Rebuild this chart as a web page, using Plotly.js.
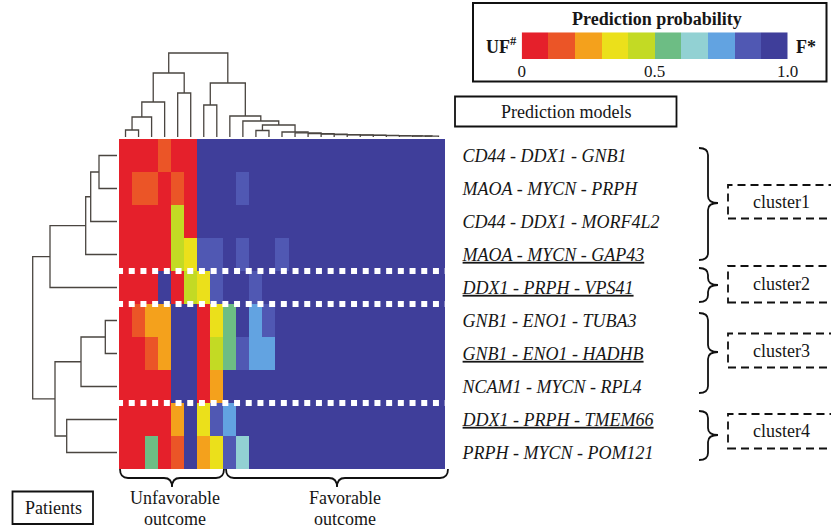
<!DOCTYPE html>
<html><head><meta charset="utf-8">
<script src="https://cdn.plot.ly/plotly-3.0.1.min.js"></script>
<style>html,body{margin:0;padding:0;background:#fff;}#chart{width:831px;height:530px;}</style>
</head><body><div id="chart"></div>
<script>
// ---------- data ----------
const models = ['CD44 - DDX1 - GNB1','MAOA - MYCN - PRPH','CD44 - DDX1 - MORF4L2','MAOA - MYCN - GAP43',
  'DDX1 - PRPH - VPS41','GNB1 - ENO1 - TUBA3','GNB1 - ENO1 - HADHB','NCAM1 - MYCN - RPL4',
  'DDX1 - PRPH - TMEM66','PRPH - MYCN - POM121'];
const underlined = [false,false,false,true,true,false,true,false,true,false];
const clusters = ['cluster1','cluster2','cluster3','cluster4'];
const patients = [1,2,3,4,5,6,7,8,9,10,11,12,13,14,15,16,17,18,19,20,21,22,23,24,25];

const probCD44_DDX1_GNB1   = [0.05,0.05,0.05,0.15,0.05,0.05,0.95,0.95,0.95,0.95,0.95,0.95,0.95,0.95,0.95,0.95,0.95,0.95,0.95,0.95,0.95,0.95,0.95,0.95,0.95];
const probMAOA_MYCN_PRPH   = [0.05,0.15,0.15,0.05,0.15,0.05,0.95,0.95,0.95,0.85,0.95,0.95,0.95,0.95,0.95,0.95,0.95,0.95,0.95,0.95,0.95,0.95,0.95,0.95,0.95];
const probCD44_DDX1_MORF4L2= [0.05,0.05,0.05,0.05,0.45,0.05,0.95,0.95,0.95,0.95,0.95,0.95,0.95,0.95,0.95,0.95,0.95,0.95,0.95,0.95,0.95,0.95,0.95,0.95,0.95];
const probMAOA_MYCN_GAP43  = [0.05,0.05,0.05,0.05,0.45,0.35,0.85,0.85,0.95,0.85,0.95,0.95,0.85,0.95,0.95,0.95,0.95,0.95,0.95,0.95,0.95,0.95,0.95,0.95,0.95];
const probDDX1_PRPH_VPS41  = [0.05,0.05,0.05,0.95,0.05,0.45,0.35,0.85,0.95,0.95,0.85,0.95,0.95,0.95,0.95,0.95,0.95,0.95,0.95,0.95,0.95,0.95,0.95,0.95,0.95];
const probGNB1_ENO1_TUBA3  = [0.05,0.15,0.25,0.25,0.95,0.95,0.05,0.35,0.55,0.95,0.75,0.85,0.95,0.95,0.95,0.95,0.95,0.95,0.95,0.95,0.95,0.95,0.95,0.95,0.95];
const probGNB1_ENO1_HADHB  = [0.05,0.05,0.15,0.25,0.95,0.95,0.05,0.45,0.55,0.85,0.75,0.75,0.95,0.95,0.95,0.95,0.95,0.95,0.95,0.95,0.95,0.95,0.95,0.95,0.95];
const probNCAM1_MYCN_RPL4  = [0.05,0.05,0.05,0.05,0.95,0.95,0.05,0.25,0.95,0.95,0.95,0.95,0.95,0.95,0.95,0.95,0.95,0.95,0.95,0.95,0.95,0.95,0.95,0.95,0.95];
const probDDX1_PRPH_TMEM66 = [0.05,0.05,0.05,0.05,0.25,0.95,0.35,0.85,0.75,0.95,0.95,0.95,0.95,0.95,0.95,0.95,0.95,0.95,0.95,0.95,0.95,0.95,0.95,0.95,0.95];
const probPRPH_MYCN_POM121 = [0.05,0.05,0.55,0.05,0.15,0.95,0.25,0.35,0.85,0.65,0.95,0.95,0.95,0.95,0.95,0.95,0.95,0.95,0.95,0.95,0.95,0.95,0.95,0.95,0.95];

// patient dendrogram: [left node, right node, height]
const patientLinkage = [[0,1,7],[25,2,20],[26,3,35],[4,5,44],[27,28,64],[6,7,32],
  [23,24,0.8],[22,31,1.0],[21,32,1.2],[20,33,1.4],[19,34,1.6],[18,35,1.8],[17,36,2.1],[16,37,2.4],
  [15,38,2.8],[14,39,3.4],[13,40,4.2],[12,41,5.0],[10,11,6.5],[43,42,12],[9,44,16],[8,45,21],
  [30,46,54],[29,47,84]];
// model dendrogram
const modelLinkage = [[0,1,18],[10,2,26.3],[11,3,31.3],[12,4,67],[5,6,11.7],[14,7,36],[8,9,50.3],[15,16,62],[13,17,84.3]];

const binColors = ['#e5202b','#eb5527','#f4a11c','#ebe01b','#c3da24','#6dbd84','#92d1d3','#62a3e1','#5058b3','#3f3e9a'];
const legendValues = [0.05,0.15,0.25,0.35,0.45,0.55,0.65,0.75,0.85,0.95];
const legendTickVals = [0,0.5,1];
const legendTickText = ['0','0.5','1.0'];

// ---------- build ----------
const W=831,H=530;
const px=x=>x/W, py=y=>1-y/H;
const FONT='Liberation Serif', TXT='#161616';

const z=[probCD44_DDX1_GNB1,probMAOA_MYCN_PRPH,probCD44_DDX1_MORF4L2,probMAOA_MYCN_GAP43,probDDX1_PRPH_VPS41,
  probGNB1_ENO1_TUBA3,probGNB1_ENO1_HADHB,probNCAM1_MYCN_RPL4,probDDX1_PRPH_TMEM66,probPRPH_MYCN_POM121];
const colorscale=[];
binColors.forEach((c,i)=>{colorscale.push([i/10,c]);colorscale.push([(i+1)/10,c]);});

function dendro(link,n){
  const pos=[],hgt=[];for(let i=0;i<n;i++){pos.push(i);hgt.push(0);}
  const p=[],h=[];
  link.forEach(([a,b,ht])=>{p.push(pos[a],pos[a],pos[b],pos[b],null);h.push(hgt[a],ht,ht,hgt[b],null);
    pos.push((pos[a]+pos[b])/2);hgt.push(ht);});
  return {p,h};
}
const dTop=dendro(patientLinkage,patients.length);
const dLeft=dendro(modelLinkage,models.length);
const rowIdx=models.map((m,i)=>i), colIdx=patients.map((p,i)=>i);
const lineCol='#4a4540';

const traces=[
  {type:'heatmap',z:z,x:colIdx,y:rowIdx,colorscale:colorscale,zmin:0,zmax:1,showscale:false,xaxis:'x',yaxis:'y',hoverinfo:'z'},
  {type:'scatter',mode:'lines',x:dTop.p,y:dTop.h,xaxis:'x',yaxis:'y3',line:{color:lineCol,width:1.3},hoverinfo:'skip'},
  {type:'scatter',mode:'lines',x:dLeft.h,y:dLeft.p,xaxis:'x3',yaxis:'y',line:{color:lineCol,width:1.3},hoverinfo:'skip'},
  {type:'heatmap',z:[legendValues],x:legendValues,y:[0],colorscale:colorscale,zmin:0,zmax:1,showscale:false,xaxis:'x4',yaxis:'y4',hoverinfo:'skip'}
];

function P(cmds){return cmds.map(c=>{const pts=[];for(let i=1;i<c.length;i+=2)pts.push(px(c[i]).toFixed(5)+','+py(c[i+1]).toFixed(5));return c[0]+pts.join(' ');}).join(' ');}
function braceV(yT,yB,yM){const x0=699,xm=708,xt=718,r=7;
  return P([['M',x0,yT],['Q',xm,yT,xm,yT+r],['L',xm,yM-r],['Q',xm,yM,xt,yM],['Q',xm,yM,xm,yM+r],['L',xm,yB-r],['Q',xm,yB,x0,yB]]);}
function braceH(xL,xR,xM){const yT=469,ym=478,yt=487,r=8;
  return P([['M',xL,yT],['Q',xL,ym,xL+r,ym],['L',xM-r,ym],['Q',xM,ym,xM,yt],['Q',xM,ym,xM+r,ym],['L',xR-r,ym],['Q',xR,ym,xR,yT]]);}

const shapes=[];
[3.5,4.5,7.5].forEach(b=>shapes.push({type:'line',xref:'x',yref:'y',x0:-0.65,x1:24.5,y0:b,y1:b,line:{color:'white',width:6,dash:'6px,5.7px'}}));
function rect(x0,y0,x1,y1,w,dash){shapes.push({type:'rect',xref:'paper',yref:'paper',x0:px(x0),x1:px(x1),y0:py(y1),y1:py(y0),line:{color:'#111',width:w,dash:dash||'solid'}});}
rect(473,3,826.5,81.5,2);
rect(455,96.5,676.5,126.5,1.8);
rect(12.5,491.5,93,524,1.8);
const clusterBoxes=[[185,218.5],[266,302.5],[333.5,367.5],[414,448.5]];
clusterBoxes.forEach(b=>rect(728,b[0],850,b[1],1.8,'8px,5px'));
[[148,260,203],[268,302,285],[313,393,352],[411,460,435]].forEach(b=>shapes.push({type:'path',xref:'paper',yref:'paper',path:braceV(b[0],b[1],b[2]),line:{color:'#111',width:1.8}}));
shapes.push({type:'path',xref:'paper',yref:'paper',path:braceH(120,224,172),line:{color:'#111',width:1.8}});
shapes.push({type:'path',xref:'paper',yref:'paper',path:braceH(226,448,337),line:{color:'#111',width:1.8}});

function ann(text,x,y,size){return {text:text,xref:'paper',yref:'paper',x:px(x),y:py(y),xanchor:'center',yanchor:'middle',showarrow:false,font:{family:FONT,size:size,color:TXT}};}
const annotations=[
  ann('<b>Prediction probability</b>',657,19,18),
  ann('<b>UF<sup>#</sup></b>',501,46,18),
  ann('<b>F*</b>',806,47,18),
  ann('Prediction models',566,112,18),
  ann('Unfavorable',175,498,18),ann('outcome',175,519,18),
  ann('Favorable',345,498,18),ann('outcome',345,519,18),
  ann('Patients',53,508,18)
];
const clusterY=[202,284,350.5,431];
clusters.forEach((c,i)=>annotations.push(ann(c,781,clusterY[i],18)));

const layout={
  width:W,height:H,margin:{l:0,r:0,t:0,b:0},paper_bgcolor:'white',plot_bgcolor:'rgba(0,0,0,0)',showlegend:false,
  font:{family:FONT,color:TXT},
  xaxis:{domain:[px(119),px(445)],range:[-0.5,24.5],anchor:'y',visible:false,fixedrange:true},
  yaxis:{domain:[py(469),py(139)],range:[9.5,-0.5],anchor:'x',side:'right',tickvals:rowIdx,
    ticktext:models.map((m,i)=>underlined[i]?'<u>'+m+'</u>':m),ticks:'outside',ticklen:13,tickcolor:'rgba(0,0,0,0)',
    showgrid:false,zeroline:false,showline:false,fixedrange:true,
    tickfont:{family:FONT,size:18,style:'italic',color:TXT}},
  yaxis3:{domain:[py(137),py(49)],range:[0,88],anchor:'x',visible:false,fixedrange:true},
  xaxis3:{domain:[0,px(117)],range:[117,0],anchor:'y',visible:false,fixedrange:true},
  xaxis4:{domain:[px(521.7),px(787.7)],range:[0,1],anchor:'y4',tickvals:legendTickVals,ticktext:legendTickText,ticks:'',
    showgrid:false,zeroline:false,showline:false,fixedrange:true,tickfont:{family:FONT,size:17,color:TXT}},
  yaxis4:{domain:[py(59),py(32.3)],range:[-0.5,0.5],anchor:'x4',visible:false,fixedrange:true},
  shapes:shapes,annotations:annotations
};
Plotly.newPlot('chart',traces,layout,{displayModeBar:false,staticPlot:true});
</script></body></html>
